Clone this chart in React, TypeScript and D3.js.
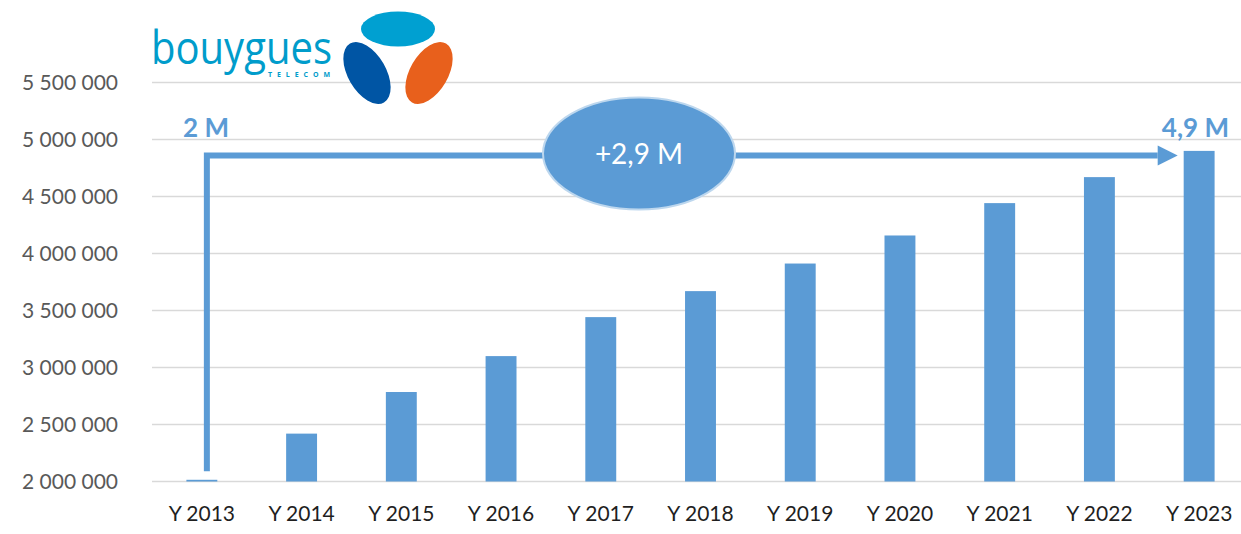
import React from "react";
import * as d3 from "d3";

const years = ["Y 2013", "Y 2014", "Y 2015", "Y 2016", "Y 2017", "Y 2018", "Y 2019", "Y 2020", "Y 2021", "Y 2022", "Y 2023"];
const subscribers = [2015000, 2420000, 2785000, 3100000, 3442000, 3670000, 3912000, 4158000, 4442000, 4670000, 4900000];
const yTicks = [2000000, 2500000, 3000000, 3500000, 4000000, 4500000, 5000000, 5500000];
const startLabel = "2 M";
const endLabel = "4,9 M";
const growthLabel = "+2,9 M";
const arrowLevel = 4860000;
const arrowFoot = 2090000;

const BLUE = "#5B9BD5";
const FONT = "Lato, 'Open Sans', sans-serif";

const W = 1241;
const H = 534;

const App = () => {
  const x = d3
    .scaleBand()
    .domain(years)
    .range([152, 1249])
    .paddingInner(0.69)
    .paddingOuter(0.345);

  const y = d3.scaleLinear().domain([2000000, 5500000]).range([481.5, 82.5]);

  const fmt = (v: number) => d3.format(",")(v).replace(/,/g, " ");

  const first = years[0];
  const last = years[years.length - 1];
  const vx = (x(first) ?? 0) + x.bandwidth() / 2 + 5;
  const ay = y(arrowLevel);
  const tipX = (x(last) ?? 0) - 6;
  const headLen = 20;

  return (
    <svg
      width={W}
      height={H}
      style={{ position: "absolute", left: 0, top: 0, background: "#fff" }}
    >
      {/* grid */}
      <g>
        {yTicks.map((t) => (
          <line key={t} x1={152} x2={W} y1={y(t)} y2={y(t)} stroke="#D9D9D9" strokeWidth={1.5} />
        ))}
      </g>

      {/* y labels */}
      <g fontFamily={FONT} fontSize={21} fill="#595959" textAnchor="end">
        {yTicks.map((t) => (
          <text key={t} x={118} y={y(t)} dy="0.36em">
            {fmt(t)}
          </text>
        ))}
      </g>

      {/* bars */}
      <g>
        {years.map((yr, i) => (
          <rect
            key={yr}
            x={x(yr)}
            width={x.bandwidth()}
            y={y(subscribers[i])}
            height={y(2000000) - y(subscribers[i])}
            fill={BLUE}
          />
        ))}
      </g>

      {/* x labels */}
      <g fontFamily={FONT} fontSize={21} fill="#1f1f1f" textAnchor="middle">
        {years.map((yr) => (
          <text key={yr} x={(x(yr) ?? 0) + x.bandwidth() / 2} y={521}>
            {yr}
          </text>
        ))}
      </g>

      {/* growth arrow */}
      <path
        d={`M${vx},${y(arrowFoot)} V${ay} H${tipX - headLen}`}
        fill="none"
        stroke={BLUE}
        strokeWidth={6}
      />
      <path
        d={`M${tipX},${ay} L${tipX - headLen},${ay - 10} L${tipX - headLen},${ay + 10} Z`}
        fill={BLUE}
      />
      <ellipse
        cx={639}
        cy={ay - 2}
        rx={96}
        ry={56}
        fill={BLUE}
        stroke="#BDD7EE"
        strokeWidth={2}
      />
      <text
        x={639}
        y={ay - 2}
        dy="0.36em"
        textAnchor="middle"
        fontFamily={FONT}
        fontSize={28}
        fill="#fff"
      >
        {growthLabel}
      </text>

      <text x={183} y={137} fontFamily={FONT} fontSize={26} fontWeight="bold" fill={BLUE}>
        {startLabel}
      </text>
      <text x={1229} y={137} textAnchor="end" fontFamily={FONT} fontSize={26} fontWeight="bold" fill={BLUE}>
        {endLabel}
      </text>

      {/* logo */}
      <g>
        <text
          x={151}
          y={64}
          fontFamily="'Open Sans', sans-serif"
          fontWeight={400}
          fontSize={46}
          fill="#009CCB"
          textLength={181}
          lengthAdjust="spacingAndGlyphs"
        >
          bouygues
        </text>
        <text
          x={268}
          y={77}
          fontFamily="'Open Sans', sans-serif"
          fontSize={7}
          fontWeight="bold"
          fill="#009CCB"
          textLength={62}
          lengthAdjust="spacing"
        >
          TELECOM
        </text>
        <ellipse cx={398} cy={29} rx={37} ry={17.5} fill="#00A0D1" />
        <ellipse cx={367} cy={73} rx={19} ry={34} fill="#0055A4" transform="rotate(-30 367 73)" />
        <ellipse cx={429} cy={73} rx={19} ry={34} fill="#E8601C" transform="rotate(30 429 73)" />
      </g>
    </svg>
  );
};

export default App;
